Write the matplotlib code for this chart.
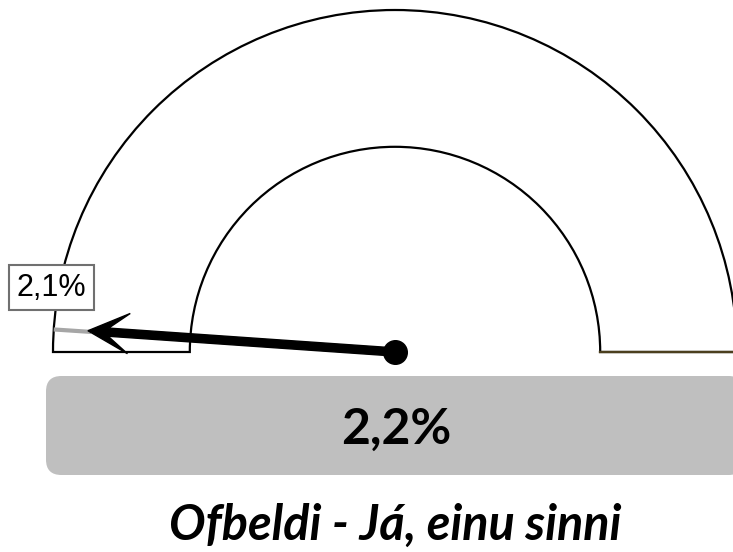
import numpy as np
import matplotlib
matplotlib.use("Agg")
import matplotlib.pyplot as plt
from matplotlib.patches import Wedge, FancyBboxPatch

# gauge data
gauge_min = 0.0
gauge_max = 100.0
value = 2.2
reference = 2.1
value_label = "2,2%"
reference_label = "2,1%"
title = "Ofbeldi - Já, einu sinni"

inner_ratio = 0.6
needle_len = 0.9


def to_angle(v):
    # 0 on the left, max on the right
    return np.pi * (1 - (v - gauge_min) / (gauge_max - gauge_min))


fig = plt.figure(figsize=(7.33, 5.52), dpi=100)
ax = fig.add_axes([0, 0, 1, 1])
ax.set_xlim(-395 / 342, 338 / 342)
ax.set_ylim(-200 / 342, 352 / 342)
ax.set_aspect("equal")
ax.axis("off")

# annulus
ax.add_patch(Wedge((0, 0), 1.0, 0, 180, width=1 - inner_ratio,
                   facecolor="white", edgecolor="black", linewidth=1.6))
ax.plot([inner_ratio, 1.0], [0, 0], color="#4b3f1e", linewidth=1.7)

# reference mark
a = to_angle(reference)
ax.plot([np.cos(a) * 0.89, np.cos(a)], [np.sin(a) * 0.89, np.sin(a)],
        color="#a6a6a6", linewidth=3, solid_capstyle="butt")
ax.annotate(reference_label, xy=(np.cos(a), np.sin(a)), xytext=(-1.5, 30),
            textcoords="offset points", ha="center", va="center",
            fontsize=22, family="Liberation Sans",
            bbox=dict(boxstyle="square,pad=0.25", facecolor="white",
                      edgecolor="#707070", linewidth=1.5))

# needle
a = to_angle(value)
ax.arrow(0, 0, needle_len * np.cos(a), needle_len * np.sin(a),
         width=0.024, head_width=0.118, head_length=0.12, overhang=0.5,
         length_includes_head=True, color="black", zorder=5)
ax.plot([0], [0], "o", color="black", markersize=17, zorder=6)

# value box
ax.add_patch(FancyBboxPatch((-349 / 342, -123 / 342), 698 / 342, 99 / 342,
                            boxstyle="round,pad=0,rounding_size=0.045",
                            facecolor="#bfbfbf", edgecolor="none"))
ax.text(0.005, -92 / 342, value_label, ha="center", va="baseline",
        fontsize=36, fontweight="bold", family="Lato")

ax.text(0, -188 / 342, title, ha="center", va="baseline",
        fontsize=35, fontweight="bold", fontstyle="italic", family="Lato")

fig.savefig("out.png", dpi=100)
